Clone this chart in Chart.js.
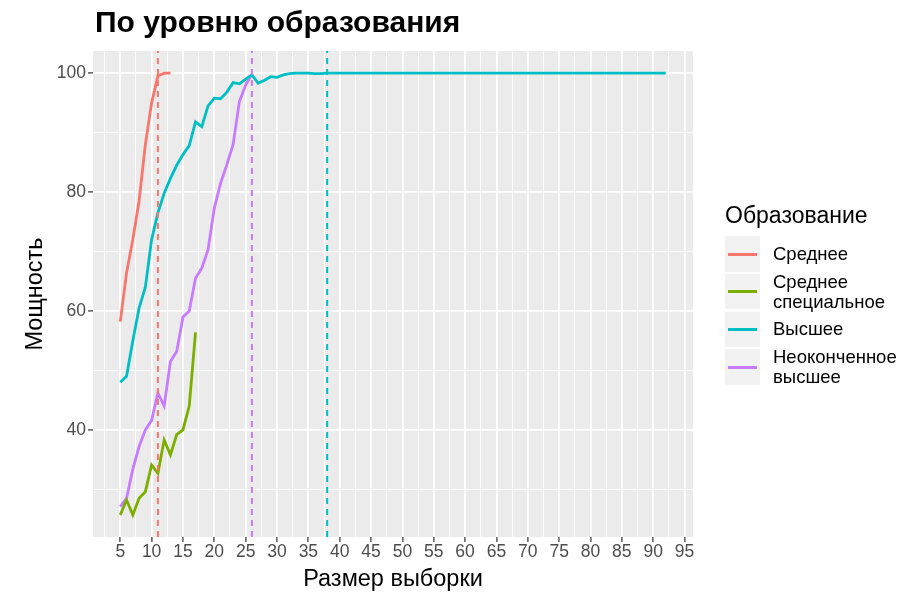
<!DOCTYPE html>
<html>
<head>
<meta charset="utf-8">
<script src="https://cdn.jsdelivr.net/npm/chart.js@4.4.0/dist/chart.umd.min.js"></script>
<style>
  html, body { margin: 0; padding: 0; background: #fff; }
  #wrap { position: relative; width: 909px; height: 594px; font-family: "Liberation Sans", Arial, sans-serif; }
  #chartTitle { position: absolute; left: 95px; top: 5px; font-size: 30px; font-weight: bold; color: #000; }
  #legend { position: absolute; left: 725px; top: 202px; color: #000; }
  #legend .ltitle { font-size: 23px; height: 34px; }
  #legend .row { display: flex; align-items: center; height: 35.5px; margin-bottom: 2.3px; }
  #legend .key { width: 35px; height: 35.5px; background: #F2F2F2; position: relative; flex: none; }
  #legend .key span { position: absolute; left: 3px; right: 3px; top: 16.5px; height: 3px; }
  #legend .lbl { font-size: 18.5px; line-height: 20px; margin-left: 13px; white-space: pre-line; }
</style>
</head>
<body>
<div id="wrap">
  <canvas id="powerChart" width="909" height="594"></canvas>
  <div id="chartTitle">По уровню образования</div>
  <div id="legend"></div>
</div>
<script>
// series
const seriesNames  = ['Среднее', 'Среднее специальное', 'Высшее', 'Неоконченное высшее'];
const legendLabels = ['Среднее', 'Среднее\nспециальное', 'Высшее', 'Неоконченное\nвысшее'];
const seriesColors = ['#F8766D', '#7CAE00', '#00BFC4', '#C77CFF'];

// sample sizes (x) and power (y) for each education level
const nSrednee = [5, 6, 7, 8, 9, 10, 11, 12, 13];
const powSrednee = [58.2, 66.4, 72, 78.5, 88, 95, 99.5, 100, 100];

const nSpec = [5, 6, 7, 8, 9, 10, 11, 12, 13, 14, 15, 16, 17];
const powSpec = [25.7, 28.2, 25.7, 28.5, 29.6, 34.1, 32.7, 38.3, 35.8, 39.2, 40, 44, 56.4];

const nVyssh = [5, 6, 7, 8, 9, 10, 11, 12, 13, 14, 15, 16, 17, 18, 19, 20, 21, 22, 23, 24,
  25, 26, 27, 28, 29, 30, 31, 32, 33, 34, 35, 36, 37, 38, 39, 40, 41, 42, 43, 44,
  45, 46, 47, 48, 49, 50, 51, 52, 53, 54, 55, 56, 57, 58, 59, 60, 61, 62, 63, 64,
  65, 66, 67, 68, 69, 70, 71, 72, 73, 74, 75, 76, 77, 78, 79, 80, 81, 82, 83, 84,
  85, 86, 87, 88, 89, 90, 91, 92];
const powVyssh = [48, 49, 55, 60.5, 64, 72, 76.5, 79.8, 82.3, 84.5, 86.3, 87.8, 91.8, 91, 94.5, 95.8, 95.7, 96.8, 98.4, 98.2,
  99, 99.7, 98.3, 98.8, 99.4, 99.3, 99.7, 99.9, 100, 100, 100, 99.9, 99.9, 100, 100, 100, 100, 100, 100, 100,
  100, 100, 100, 100, 100, 100, 100, 100, 100, 100, 100, 100, 100, 100, 100, 100, 100, 100, 100, 100,
  100, 100, 100, 100, 100, 100, 100, 100, 100, 100, 100, 100, 100, 100, 100, 100, 100, 100, 100, 100,
  100, 100, 100, 100, 100, 100, 100, 100];

const nNeok = [5, 6, 7, 8, 9, 10, 11, 12, 13, 14, 15, 16, 17, 18, 19, 20, 21, 22, 23, 24, 25, 26];
const powNeok = [27.1, 28.5, 33.4, 37.2, 40, 41.6, 46.2, 44, 51.5, 53.2, 59, 60, 65.5, 67.2, 70.3, 77.3, 81.5, 84.6, 88, 95.2, 98, 99.8];

// required sample size (dashed lines), one per series that reaches it
const cutoffN = [11, null, 38, 26];

// axes
const X_MIN = 0.65, X_MAX = 96.35;
const Y_MIN = 21.98, Y_MAX = 103.72;
const xTickValues = [2.5, 5, 7.5, 10, 12.5, 15, 17.5, 20, 22.5, 25, 27.5, 30, 32.5, 35, 37.5, 40, 42.5, 45,
  47.5, 50, 52.5, 55, 57.5, 60, 62.5, 65, 67.5, 70, 72.5, 75, 77.5, 80, 82.5, 85, 87.5, 90, 92.5, 95];
const yTickValues = [30, 40, 50, 60, 70, 80, 90, 100];

const xs = [nSrednee, nSpec, nVyssh, nNeok];
const ys = [powSrednee, powSpec, powVyssh, powNeok];

Chart.defaults.font.family = '"Liberation Sans", Arial, sans-serif';

const datasets = seriesNames.map((name, i) => ({
  label: name,
  data: xs[i].map((x, j) => ({ x, y: ys[i][j] })),
  borderColor: seriesColors[i],
  borderWidth: 2.8,
  pointRadius: 0,
  tension: 0,
  fill: false,
  order: 2
}));

cutoffN.forEach((n, i) => {
  if (n == null) return;
  datasets.push({
    label: seriesNames[i] + ' cutoff',
    data: [{ x: n, y: Y_MIN }, { x: n, y: Y_MAX }],
    borderColor: seriesColors[i],
    borderWidth: 2,
    borderDash: [6, 5],
    pointRadius: 0,
    fill: false,
    order: 1
  });
});

const panelBg = {
  id: 'panelBg',
  beforeDraw(chart) {
    const a = chart.chartArea, c = chart.ctx;
    c.save();
    c.fillStyle = '#EBEBEB';
    c.fillRect(a.left, a.top, a.right - a.left, a.bottom - a.top);
    c.restore();
  }
};

const isMajorX = v => v % 5 === 0;
const isMajorY = v => v % 20 === 0;

new Chart(document.getElementById('powerChart'), {
  type: 'line',
  data: { datasets },
  plugins: [panelBg],
  options: {
    responsive: false,
    animation: false,
    devicePixelRatio: 1,
    layout: { padding: { top: 51, right: 216, bottom: 0, left: 0 } },
    plugins: { legend: { display: false }, tooltip: { enabled: false } },
    scales: {
      x: {
        type: 'linear', min: X_MIN, max: X_MAX,
        afterBuildTicks: s => { s.ticks = xTickValues.map(v => ({ value: v })); },
        afterFit: s => { s.height = 57; },
        border: { display: false },
        grid: {
          color: '#FFFFFF',
          lineWidth: c => isMajorX(c.tick.value) ? 1.8 : 0.9,
          tickLength: 5,
          tickColor: c => isMajorX(c.tick.value) ? '#333333' : 'rgba(0,0,0,0)',
          tickWidth: 1.2
        },
        ticks: {
          autoSkip: false, maxRotation: 0, padding: 0,
          color: '#4D4D4D', font: { size: 17.5 },
          callback: v => isMajorX(v) ? String(v) : ''
        },
        title: { display: true, text: 'Размер выборки', color: '#000', font: { size: 23.5 }, padding: { top: 0, bottom: 0 } }
      },
      y: {
        type: 'linear', min: Y_MIN, max: Y_MAX,
        afterBuildTicks: s => { s.ticks = yTickValues.map(v => ({ value: v })); },
        afterFit: s => { s.width = 93; },
        border: { display: false },
        grid: {
          color: '#FFFFFF',
          lineWidth: c => isMajorY(c.tick.value) ? 1.8 : 0.9,
          tickLength: 5,
          tickColor: c => isMajorY(c.tick.value) ? '#333333' : 'rgba(0,0,0,0)',
          tickWidth: 1.2
        },
        ticks: {
          autoSkip: false, padding: 2,
          color: '#4D4D4D', font: { size: 17.5 },
          callback: v => isMajorY(v) ? String(v) : ''
        },
        title: { display: true, text: 'Мощность', color: '#000', font: { size: 23.5 }, padding: { top: 21, bottom: 0 } }
      }
    }
  }
});

// legend
const legendEl = document.getElementById('legend');
legendEl.innerHTML = '<div class="ltitle">Образование</div>' + legendLabels.map((t, i) =>
  `<div class="row"><div class="key"><span style="background:${seriesColors[i]}"></span></div><div class="lbl">${t}</div></div>`
).join('');
</script>
</body>
</html>
